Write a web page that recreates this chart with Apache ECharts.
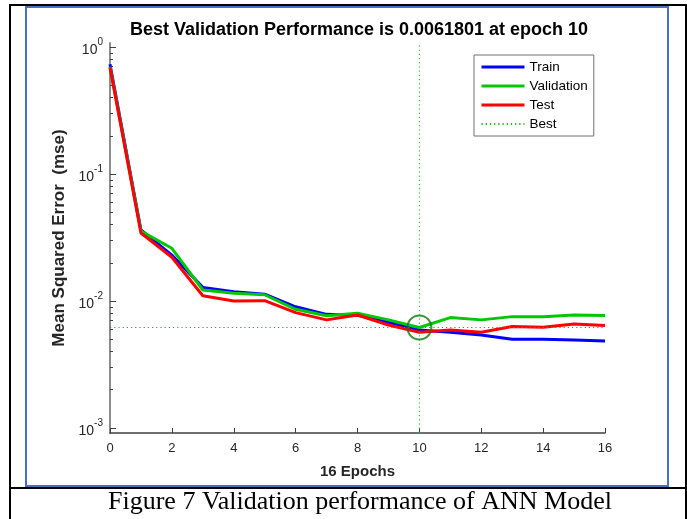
<!DOCTYPE html>
<html>
<head>
<meta charset="utf-8">
<script src="https://cdn.jsdelivr.net/npm/echarts@6/dist/echarts.min.js"></script>
<style>
html,body{margin:0;padding:0;background:#fff;}
#chart{width:687px;height:519px;}
</style>
</head>
<body>
<div id="chart"></div>
<script>
var epochs = [0,1,2,3,4,5,6,7,8,9,10,11,12,13,14,15,16];
var train = [0.73,0.0362,0.023,0.0128,0.0118,0.0113,0.0090,0.00785,0.0077,0.0068,0.0059,0.00567,0.0054,0.0050,0.00499,0.00493,0.00484];
var validation = [0.70,0.0355,0.026,0.0122,0.0115,0.0112,0.0086,0.00766,0.0080,0.0071,0.0061801,0.0074,0.0071,0.00753,0.00753,0.00776,0.0077];
var test = [0.69,0.0343,0.0221,0.0110,0.0100,0.01005,0.0081,0.0071,0.00776,0.00647,0.00567,0.0059,0.00567,0.0063,0.0062,0.0066,0.0064];
var bestEpoch = 10;
var bestValue = 0.0061801;
var xTicks = [0,2,4,6,8,10,12,14,16];
var yMajorTicks = [0.001,0.01,0.1,1];
var yMinorTicks = [0.002,0.003,0.004,0.005,0.006,0.007,0.008,0.009,
                   0.02,0.03,0.04,0.05,0.06,0.07,0.08,0.09,
                   0.2,0.3,0.4,0.5,0.6,0.7,0.8,0.9];
var yMin = 0.000913, yMax = 1.075;
var titleText = 'Best Validation Performance is 0.0061801 at epoch 10';
var xName = '16 Epochs';
var yName = 'Mean Squared Error  (mse)';
var caption = 'Figure 7 Validation performance of ANN Model';

function pairs(xs, ys){ return xs.map(function(x,i){ return [x, ys[i]]; }); }

var font = 'Liberation Sans, Arial, sans-serif';
var chart = echarts.init(document.getElementById('chart'));
chart.setOption({
  animation: false,
  backgroundColor: '#fff',
  title: {
    text: titleText,
    left: 354, top: 16, textAlign: 'center',
    textStyle: {fontFamily: font, fontSize: 18, fontWeight: 'bold', color: '#000'}
  },
  legend: {
    data: [
      {name: 'Train', lineStyle: {width: 3}},
      {name: 'Validation', lineStyle: {width: 3}},
      {name: 'Test', lineStyle: {width: 3}},
      {name: 'Best'}
    ],
    orient: 'vertical',
    left: 474, top: 55,
    itemWidth: 43, itemHeight: 10, itemGap: 3,
    padding: [4, 6, 4, 6],
    borderColor: '#707070', borderWidth: 1,
    itemStyle: {opacity: 0},
    textStyle: {fontFamily: font, fontSize: 13.5, color: '#000', lineHeight: 16}
  },
  grid: {left: 110, top: 43, width: 495, height: 390, containLabel: false},
  xAxis: {
    type: 'value', min: 0, max: 16, interval: 2,
    name: xName, nameLocation: 'middle', nameGap: 31,
    nameTextStyle: {fontFamily: font, fontSize: 15, fontWeight: 'bold', color: '#262626'},
    axisLine: {lineStyle: {color: '#404040', width: 1.5}},
    axisTick: {inside: true, length: 5, lineStyle: {color: '#404040'}, customValues: xTicks},
    axisLabel: {fontFamily: font, fontSize: 13, color: '#262626', margin: 9, customValues: xTicks},
    splitLine: {show: false}
  },
  yAxis: [{
    type: 'log', logBase: 10, min: yMin, max: yMax,
    name: yName, nameLocation: 'middle', nameGap: 42,
    nameTextStyle: {fontFamily: font, fontSize: 17, fontWeight: 'bold', color: '#262626'},
    axisLine: {lineStyle: {color: '#8c8c8c', width: 2}},
    axisTick: {inside: true, length: 6, lineStyle: {color: '#404040'}, customValues: yMajorTicks},
    axisLabel: {
      margin: 7, customValues: yMajorTicks,
      formatter: function(v){ return '{b|10}{s|' + Math.round(Math.log10(v)) + '}'; },
      rich: {
        b: {fontFamily: font, fontSize: 14, color: '#262626', verticalAlign: 'bottom', lineHeight: 20},
        s: {fontFamily: font, fontSize: 10, color: '#262626', verticalAlign: 'top', lineHeight: 20}
      }
    },
    splitLine: {show: false}
  },{
    type: 'log', logBase: 10, min: yMin, max: yMax, position: 'left',
    axisLine: {show: false},
    axisLabel: {show: false},
    axisTick: {show: true, inside: true, length: 3, lineStyle: {color: '#404040'}, customValues: yMinorTicks},
    splitLine: {show: false}
  }],
  series: [
    {name: 'Train', type: 'line', data: pairs(epochs, train), symbol: 'none',
     lineStyle: {color: '#0000ff', width: 3}, itemStyle: {color: '#0000ff'}},
    {name: 'Validation', type: 'line', data: pairs(epochs, validation), symbol: 'none',
     lineStyle: {color: '#00c800', width: 3}, itemStyle: {color: '#00c800'}},
    {name: 'Test', type: 'line', data: pairs(epochs, test), symbol: 'none',
     lineStyle: {color: '#ff0000', width: 3}, itemStyle: {color: '#ff0000'}},
    {name: 'Best', type: 'line', data: [[bestEpoch, yMin],[bestEpoch, yMax]], symbol: 'none',
     lineStyle: {color: '#10b810', width: 1, type: [1.2, 3]}, itemStyle: {color: '#10b810'}},
    {name: 'BestH', type: 'line', data: [[0, bestValue],[16, bestValue]], symbol: 'none',
     lineStyle: {color: '#4a8a4a', width: 1, type: [1.2, 3]}},
    {name: 'BestMark', type: 'scatter', data: [[bestEpoch, bestValue]], symbol: 'circle', symbolSize: 24,
     itemStyle: {color: 'rgba(0,0,0,0)', borderColor: '#0a7a0a', borderWidth: 2}, z: 5}
  ],
  graphic: [
    {type: 'rect', shape: {x: 26, y: 7, width: 642, height: 479}, style: {fill: null, stroke: '#4472c4', lineWidth: 2}, silent: true},
    {type: 'line', shape: {x1: 10, y1: 5, x2: 686, y2: 5}, style: {stroke: '#000', lineWidth: 2}},
    {type: 'line', shape: {x1: 10, y1: 4, x2: 10, y2: 519}, style: {stroke: '#000', lineWidth: 2}},
    {type: 'line', shape: {x1: 686, y1: 4, x2: 686, y2: 519}, style: {stroke: '#000', lineWidth: 2}},
    {type: 'line', shape: {x1: 10, y1: 488, x2: 686, y2: 488}, style: {stroke: '#000', lineWidth: 2}},
    {type: 'text', x: 360, y: 489, style: {text: caption, textAlign: 'center', fontFamily: 'Liberation Serif, Times New Roman, serif', fontSize: 26, fill: '#000'}}
  ]
});
</script>
</body>
</html>
